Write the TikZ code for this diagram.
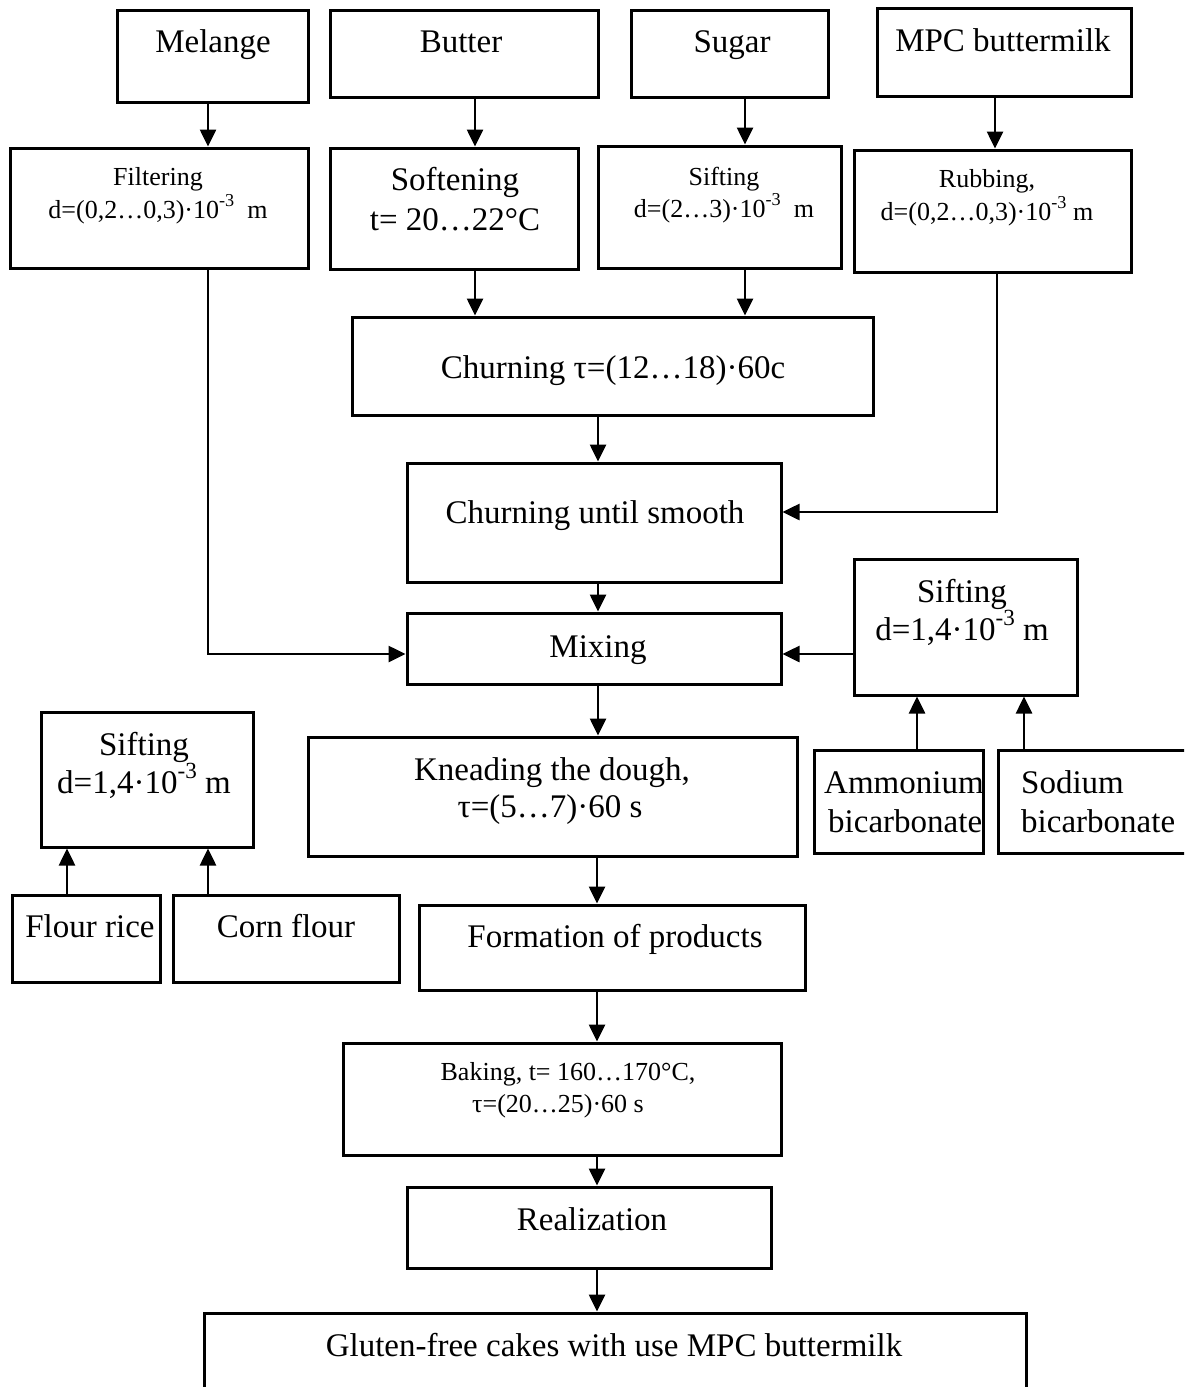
\documentclass[tikz,border=0pt]{standalone}
\usepackage{fontspec}
\setmainfont{Liberation Serif}
\usetikzlibrary{arrows.meta,fit}
\newcommand{\mysup}[1]{\raisebox{0.45em}{\scalebox{0.7}{#1}}}
\begin{document}
\begin{tikzpicture}[x=1pt,y=-1pt,
 box/.style={draw, line width=3pt, inner sep=0pt},
 big/.style={font=\fontsize{33}{38}\selectfont, inner sep=0pt, anchor=base},
 small/.style={font=\fontsize{26}{32}\selectfont, inner sep=0pt, anchor=base},
 arr/.style={line width=2.6pt, -{Triangle[length=17pt,width=16pt]}}
]
\path[use as bounding box, clip] (0,0) rectangle (1184,1387);
% boxes
\node[box, fit={(117,10)(308,102)}] (melange) {};
\node[box, fit={(330,10)(598,97)}] (butter) {};
\node[box, fit={(631,10)(828,97)}] (sugar) {};
\node[box, fit={(877,8)(1131,96)}] (mpc) {};
\node[box, fit={(10,148)(308,268)}] (filter) {};
\node[box, fit={(330,148)(578,269)}] (soft) {};
\node[box, fit={(598,146)(841,268)}] (sift1) {};
\node[box, fit={(854,150)(1131,272)}] (rub) {};
\node[box, fit={(352,317)(873,415)}] (churn) {};
\node[box, fit={(407,463)(781,582)}] (smooth) {};
\node[box, fit={(407,613)(781,684)}] (mix) {};
\node[box, fit={(854,559)(1077,695)}] (sift2) {};
\node[box, fit={(814,750)(983,853)}] (ammon) {};
\node[box, fit={(998,750)(1200,853)}] (sodium) {};
\node[box, fit={(308,737)(797,856)}] (knead) {};
\node[box, fit={(419,905)(805,990)}] (form) {};
\node[box, fit={(343,1043)(781,1155)}] (bake) {};
\node[box, fit={(407,1187)(771,1268)}] (real) {};
\node[box, fit={(204,1313)(1026,1420)}] (gluten) {};
\node[box, fit={(41,712)(253,847)}] (sift3) {};
\node[box, fit={(12,895)(160,982)}] (rice) {};
\node[box, fit={(173,895)(399,982)}] (corn) {};
% texts
\node[big] (tmel) at (213,52) {Melange};
\node[big] (tbut) at (461,52) {Butter};
\node[big] (tsug) at (732,52) {Sugar};
\node[big] (tmpc) at (1003,51) {MPC buttermilk};
\node[small] (tfil1) at (158,185) {Filtering};
\node[small] (tfil2) at (158,218) {d=(0,2…0,3)·10\mysup{-3}\ \ m};
\node[big] (tsof1) at (455,190) {Softening};
\node[big] (tsof2) at (455,230) {t= 20…22°C};
\node[small] (tsi11) at (724,185) {Sifting};
\node[small] (tsi12) at (724,217) {d=(2…3)·10\mysup{-3}\ \ m};
\node[small] (trub1) at (987,187) {Rubbing,};
\node[small] (trub2) at (987,220) {d=(0,2…0,3)·10\mysup{-3} m};
\node[big] (tchu) at (613,378) {Churning τ=(12…18)·60c};
\node[big] (tsmo) at (595,523) {Churning until smooth};
\node[big] (tmix) at (598,657) {Mixing};
\node[big] (tsi21) at (962,602) {Sifting};
\node[big] (tsi22) at (962,640) {d=1,4·10\mysup{-3} m};
\node[big] (tsi31) at (144,755) {Sifting};
\node[big] (tsi32) at (144,793) {d=1,4·10\mysup{-3} m};
\node[big] (trice) at (90,937) {Flour rice};
\node[big] (tcorn) at (286,937) {Corn flour};
\node[big,anchor=base west] (tam1) at (824,793) {Ammonium};
\node[big,anchor=base west] (tam2) at (828,832) {bicarbonate};
\node[big,anchor=base west] (tso1) at (1021,793) {Sodium};
\node[big,anchor=base west] (tso2) at (1021,832) {bicarbonate};
\node[big] (tkn1) at (552,780) {Kneading the dough,};
\node[big] (tkn2) at (550,817) {τ=(5…7)·60 s};
\node[big] (tform) at (615,947) {Formation of products};
\node[small] (tbak1) at (568,1080) {Baking, t= 160…170°C,};
\node[small] (tbak2) at (558,1112) {τ=(20…25)·60 s};
\node[big] (treal) at (592,1230) {Realization};
\node[big] (tglu) at (614,1356) {Gluten-free cakes with use MPC buttermilk};
% connectors
\draw[arr] (208,0 |- melange.south) -- (208,0 |- filter.north);
\draw[arr] (475,0 |- butter.south) -- (475,0 |- soft.north);
\draw[arr] (745,0 |- sugar.south) -- (745,0 |- sift1.north);
\draw[arr] (995,0 |- mpc.south) -- (995,0 |- rub.north);
\draw[arr] (475,0 |- soft.south) -- (475,0 |- churn.north);
\draw[arr] (745,0 |- sift1.south) -- (745,0 |- churn.north);
\draw[arr] (598,0 |- churn.south) -- (598,0 |- smooth.north);
\draw[arr] (997,0 |- rub.south) -- (997,512) -- (smooth.east |- 0,512);
\draw[arr] (598,0 |- smooth.south) -- (598,0 |- mix.north);
\draw[arr] (208,0 |- filter.south) -- (208,654) -- (mix.west |- 0,654);
\draw[arr] (sift2.west |- 0,654) -- (mix.east |- 0,654);
\draw[arr] (917,0 |- ammon.north) -- (917,0 |- sift2.south);
\draw[arr] (1024,0 |- sodium.north) -- (1024,0 |- sift2.south);
\draw[arr] (598,0 |- mix.south) -- (598,0 |- knead.north);
\draw[arr] (597,0 |- knead.south) -- (597,0 |- form.north);
\draw[arr] (597,0 |- form.south) -- (597,0 |- bake.north);
\draw[arr] (597,0 |- bake.south) -- (597,0 |- real.north);
\draw[arr] (597,0 |- real.south) -- (597,0 |- gluten.north);
\draw[arr] (67,0 |- rice.north) -- (67,0 |- sift3.south);
\draw[arr] (208,0 |- corn.north) -- (208,0 |- sift3.south);
\end{tikzpicture}
\end{document}
